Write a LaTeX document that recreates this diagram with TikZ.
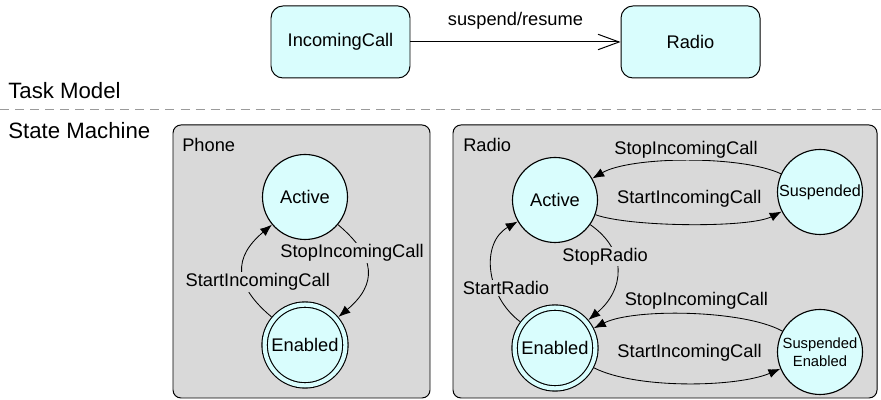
\documentclass[tikz,border=0pt]{standalone}
\usepackage{fontspec}
\setmainfont{Liberation Sans}
\usepackage{xcolor}
\usepackage{tikz}
\usetikzlibrary{positioning,arrows.meta}
\definecolor{statefill}{HTML}{D9FDFD}
\definecolor{regionfill}{HTML}{D9D9D9}
\definecolor{divider}{HTML}{9A9A9A}

\begin{document}
\begin{tikzpicture}[
        task/.style={
            rectangle,
            draw=black,
            line width=0.7pt,
            fill=statefill,
            rounded corners=0.3cm,
            minimum width=3.475cm,
            minimum height=1.8cm,
            font=\fontsize{13}{15}\selectfont
        },
        region/.style={
            rectangle,
            draw=black,
            line width=0.7pt,
            fill=regionfill,
            rounded corners=0.2cm
        },
        circstate/.style={
            circle,
            draw=black,
            line width=0.8pt,
            fill=statefill,
            minimum size=2.125cm,
            inner sep=0pt,
            align=center,
            font=\fontsize{13}{15}\selectfont
        },
        startstate/.style={
            circstate,
            minimum size=2.02cm,
            double=statefill,
            double distance=3pt,
            outer sep=2.3pt
        },
        trans/.style={
            -{Latex[length=8.5pt,width=6.5pt]},
            line width=0.6pt
        },
        lbl/.style={
            fill=regionfill,
            inner sep=1pt,
            font=\fontsize{13}{15}\selectfont
        },
        heading/.style={
            anchor=west,
            inner sep=0pt,
            font=\fontsize{15.8}{18}\selectfont
        },
        regiontitle/.style={
            anchor=west,
            inner sep=0pt,
            font=\fontsize{13}{15}\selectfont
        }
    ]
        \useasboundingbox (0,0) rectangle (22.025,10);

        % Top: task model
        \node[task] (inc) at (8.5125, 8.95) {IncomingCall};
        \node[task] (radiotask) at (17.2625, 8.95) {Radio};
        \draw[-{Straight Barb[length=15pt,width=11pt]}, line width=0.7pt] (inc) -- node[midway, yshift=0.525cm, font=\fontsize{13}{15}\selectfont] (suspres) {suspend/resume} (radiotask);

        % Divider
        \node[heading] (taskmodel) at (0.2, 7.725) {Task Model};
        \coordinate (divl) at (0, 7.25);
        \coordinate (divr) at (22.025, 7.25);
        \draw[divider, dash pattern=on 6.4pt off 4.3pt, line width=0.7pt] (divl) -- (divr);
        \node[heading] (statemachine) at (0.2, 6.725) {State Machine};

        % Regions
        \node[region, minimum width=6.425cm, minimum height=6.825cm] (phone) at (7.5375, 3.4625) {};
        \node[region, minimum width=10.6cm, minimum height=6.825cm] (radio) at (16.625, 3.4625) {};
        \node[regiontitle] (phonetitle) at (4.55, 6.37) {Phone};
        \node[regiontitle] (radiotitle) at (11.575, 6.37) {Radio};

        % Phone states
        \node[circstate] (pact) at (7.625, 5.075) {Active};
        \node[startstate] (pen) at (7.625, 1.375) {Enabled};

        % Radio states
        \node[circstate] (ract) at (13.875, 5.0) {Active};
        \node[circstate, font=\fontsize{11.5}{13}\selectfont] (rsus) at (20.5, 5.2) {Suspended};
        \node[startstate] (ren) at (13.875, 1.3) {Enabled};
        \node[circstate, font=\fontsize{10.5}{12.8}\selectfont] (rsusen) at (20.5, 1.2) {Suspended\\Enabled};

        % Phone transitions
        \draw[trans] (pact) to[out=-40, in=40, looseness=1.4] node[lbl, midway, xshift=-0.38cm, yshift=0.45cm] (pstop) {StopIncomingCall} (pen);
        \draw[trans] (pen) to[out=140, in=-140, looseness=1.4] node[lbl, midway, xshift=0.375cm, yshift=-0.275cm] (pstart) {StartIncomingCall} (pact);

        % Radio transitions
        \draw[trans] (rsus) to[out=155, in=30, looseness=0.6] node[lbl, midway, yshift=0.275cm] (rstop) {StopIncomingCall} (ract);
        \draw[trans] (ract) to[out=-20, in=-153, looseness=0.5] node[lbl, midway, yshift=0.62cm] (rstart) {StartIncomingCall} (rsus);
        \draw[trans] (ract) to[out=-35, in=40, looseness=1.25] node[lbl, midway, xshift=-0.3cm, yshift=0.365cm] (rstopradio) {StopRadio} (ren);
        \draw[trans] (ren) to[out=143, in=-150, looseness=1.1] node[lbl, midway, xshift=0.35cm, yshift=-0.45cm] (rstartradio) {StartRadio} (ract);
        \draw[trans] (rsusen) to[out=151, in=27, looseness=0.6] node[lbl, midway, xshift=0.2cm, yshift=0.325cm] (rstopsus) {StopIncomingCall} (ren);
        \draw[trans] (ren) to[out=-27, in=-157, looseness=0.65] node[lbl, midway, xshift=0.075cm, yshift=0.775cm] (rstartsus) {StartIncomingCall} (rsusen);
    \end{tikzpicture}
\end{document}
